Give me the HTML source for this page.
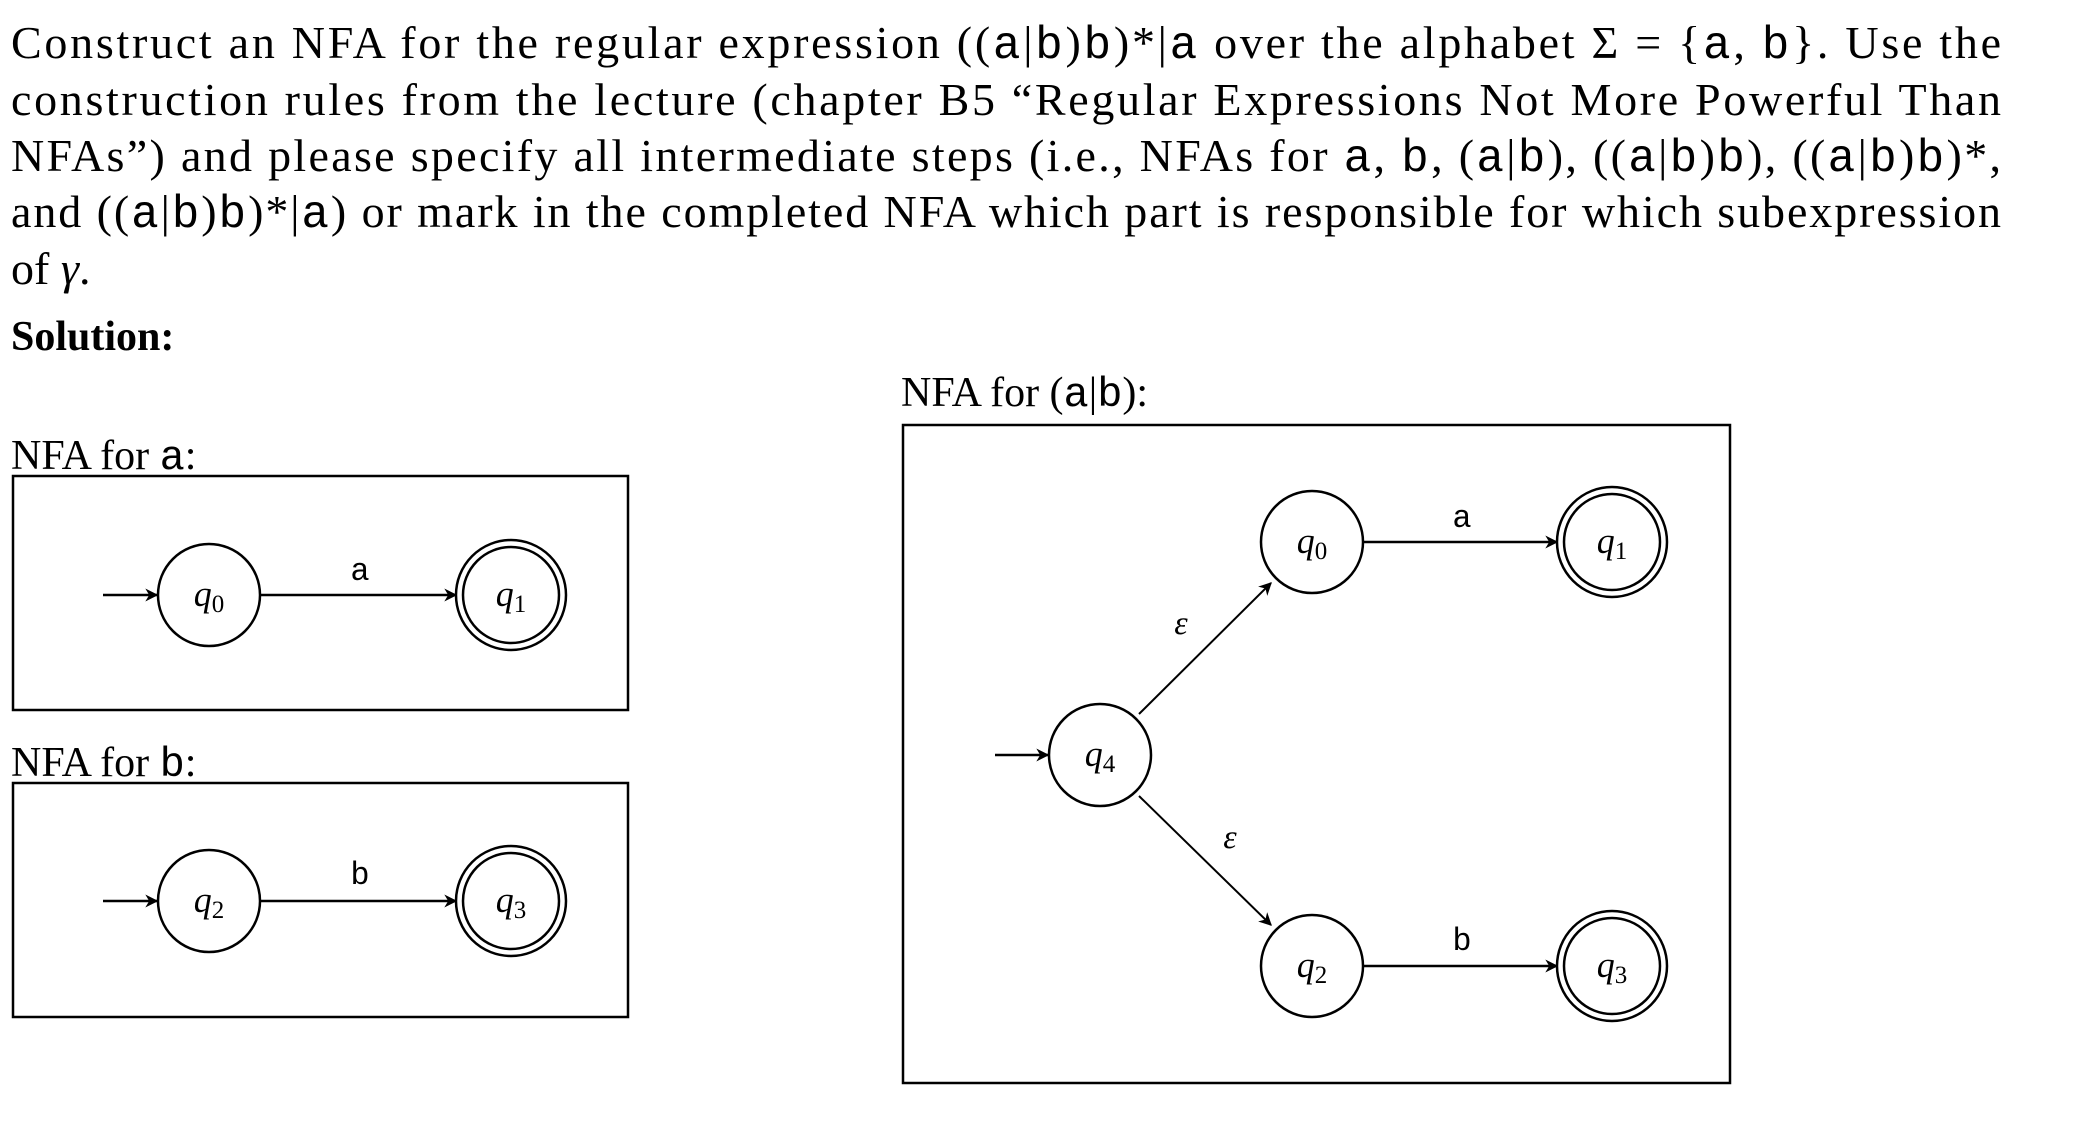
<!DOCTYPE html>
<html><head><meta charset="utf-8"><style>
html,body{margin:0;padding:0;background:#fff;}
svg{display:block;}
text{font-family:"Liberation Serif",serif;fill:#000;}
.m{font-family:"Liberation Mono",monospace;}
.i{font-style:italic;}
</style></head><body>
<svg width="2074" height="1124" viewBox="0 0 2074 1124" xmlns="http://www.w3.org/2000/svg">
<defs><marker id="ar" viewBox="0 0 10 10" refX="9" refY="5" markerWidth="15" markerHeight="13" markerUnits="userSpaceOnUse" orient="auto"><path d="M0,0 L10,5 L0,10 L3,5 z" fill="#000"/></marker></defs>
<g font-size="46">
<text x="11" y="58" textLength="1990" lengthAdjust="spacing">Construct an NFA for the regular expression ((<tspan class="m">a</tspan>|<tspan class="m">b</tspan>)<tspan class="m">b</tspan>)*|<tspan class="m">a</tspan> over the alphabet Σ = {<tspan class="m">a</tspan>, <tspan class="m">b</tspan>}. Use the</text>
<text x="11" y="115" textLength="1990" lengthAdjust="spacing">construction rules from the lecture (chapter B5 “Regular Expressions Not More Powerful Than</text>
<text x="11" y="171" textLength="1990" lengthAdjust="spacing">NFAs”) and please specify all intermediate steps (i.e., NFAs for <tspan class="m">a</tspan>, <tspan class="m">b</tspan>, (<tspan class="m">a</tspan>|<tspan class="m">b</tspan>), ((<tspan class="m">a</tspan>|<tspan class="m">b</tspan>)<tspan class="m">b</tspan>), ((<tspan class="m">a</tspan>|<tspan class="m">b</tspan>)<tspan class="m">b</tspan>)*,</text>
<text x="11" y="227" textLength="1990" lengthAdjust="spacing">and ((<tspan class="m">a</tspan>|<tspan class="m">b</tspan>)<tspan class="m">b</tspan>)*|<tspan class="m">a</tspan>) or mark in the completed NFA which part is responsible for which subexpression</text>
<text x="11" y="284">of <tspan class="i">γ</tspan>.</text>
</g>
<text x="11" y="350" font-size="42" font-weight="bold">Solution:</text>

<text x="11" y="469" font-size="42">NFA for <tspan class="m">a</tspan>:</text>
<rect x="13" y="476" width="615" height="234" fill="none" stroke="#000" stroke-width="2.5"/>
<g stroke="#000" stroke-width="2.5" fill="none">
<line x1="103" y1="595" x2="157" y2="595" marker-end="url(#ar)"/>
<circle cx="209" cy="595" r="51" fill="#fff"/>
<line x1="260" y1="595" x2="456" y2="595" marker-end="url(#ar)"/>
<circle cx="511" cy="595" r="55" fill="#fff"/><circle cx="511" cy="595" r="48"/>
</g>
<text x="209" y="606" font-size="36" class="i" text-anchor="middle">q<tspan font-size="25" dy="6" font-style="normal">0</tspan></text>
<text x="511" y="606" font-size="36" class="i" text-anchor="middle">q<tspan font-size="25" dy="6" font-style="normal">1</tspan></text>
<text x="360" y="580" font-size="32" class="m" text-anchor="middle">a</text>

<text x="11" y="776" font-size="42">NFA for <tspan class="m">b</tspan>:</text>
<rect x="13" y="783" width="615" height="234" fill="none" stroke="#000" stroke-width="2.5"/>
<g stroke="#000" stroke-width="2.5" fill="none">
<line x1="103" y1="901" x2="157" y2="901" marker-end="url(#ar)"/>
<circle cx="209" cy="901" r="51" fill="#fff"/>
<line x1="260" y1="901" x2="456" y2="901" marker-end="url(#ar)"/>
<circle cx="511" cy="901" r="55" fill="#fff"/><circle cx="511" cy="901" r="48"/>
</g>
<text x="209" y="912" font-size="36" class="i" text-anchor="middle">q<tspan font-size="25" dy="6" font-style="normal">2</tspan></text>
<text x="511" y="912" font-size="36" class="i" text-anchor="middle">q<tspan font-size="25" dy="6" font-style="normal">3</tspan></text>
<text x="360" y="884" font-size="32" class="m" text-anchor="middle">b</text>

<text x="901" y="406" font-size="42">NFA for (<tspan class="m">a</tspan>|<tspan class="m">b</tspan>):</text>
<rect x="903" y="425" width="827" height="658" fill="none" stroke="#000" stroke-width="2.5"/>
<g stroke="#000" stroke-width="2.5" fill="none">
<line x1="995" y1="755" x2="1048" y2="755" marker-end="url(#ar)"/>
<circle cx="1100" cy="755" r="51" fill="#fff"/>
<line x1="1139" y1="714" x2="1271" y2="583" stroke-width="2" marker-end="url(#ar)"/>
<line x1="1139" y1="796" x2="1271" y2="925" stroke-width="2" marker-end="url(#ar)"/>
<circle cx="1312" cy="542" r="51" fill="#fff"/>
<line x1="1363" y1="542" x2="1557" y2="542" marker-end="url(#ar)"/>
<circle cx="1612" cy="542" r="55" fill="#fff"/><circle cx="1612" cy="542" r="48"/>
<circle cx="1312" cy="966" r="51" fill="#fff"/>
<line x1="1363" y1="966" x2="1557" y2="966" marker-end="url(#ar)"/>
<circle cx="1612" cy="966" r="55" fill="#fff"/><circle cx="1612" cy="966" r="48"/>
</g>
<text x="1100" y="766" font-size="36" class="i" text-anchor="middle">q<tspan font-size="25" dy="6" font-style="normal">4</tspan></text>
<text x="1312" y="553" font-size="36" class="i" text-anchor="middle">q<tspan font-size="25" dy="6" font-style="normal">0</tspan></text>
<text x="1612" y="553" font-size="36" class="i" text-anchor="middle">q<tspan font-size="25" dy="6" font-style="normal">1</tspan></text>
<text x="1312" y="977" font-size="36" class="i" text-anchor="middle">q<tspan font-size="25" dy="6" font-style="normal">2</tspan></text>
<text x="1612" y="977" font-size="36" class="i" text-anchor="middle">q<tspan font-size="25" dy="6" font-style="normal">3</tspan></text>
<text x="1462" y="527" font-size="32" class="m" text-anchor="middle">a</text>
<text x="1462" y="950" font-size="32" class="m" text-anchor="middle">b</text>
<text x="1181" y="634" font-size="34" class="i" text-anchor="middle">ε</text>
<text x="1230" y="848" font-size="34" class="i" text-anchor="middle">ε</text>
</svg>
</body></html>
